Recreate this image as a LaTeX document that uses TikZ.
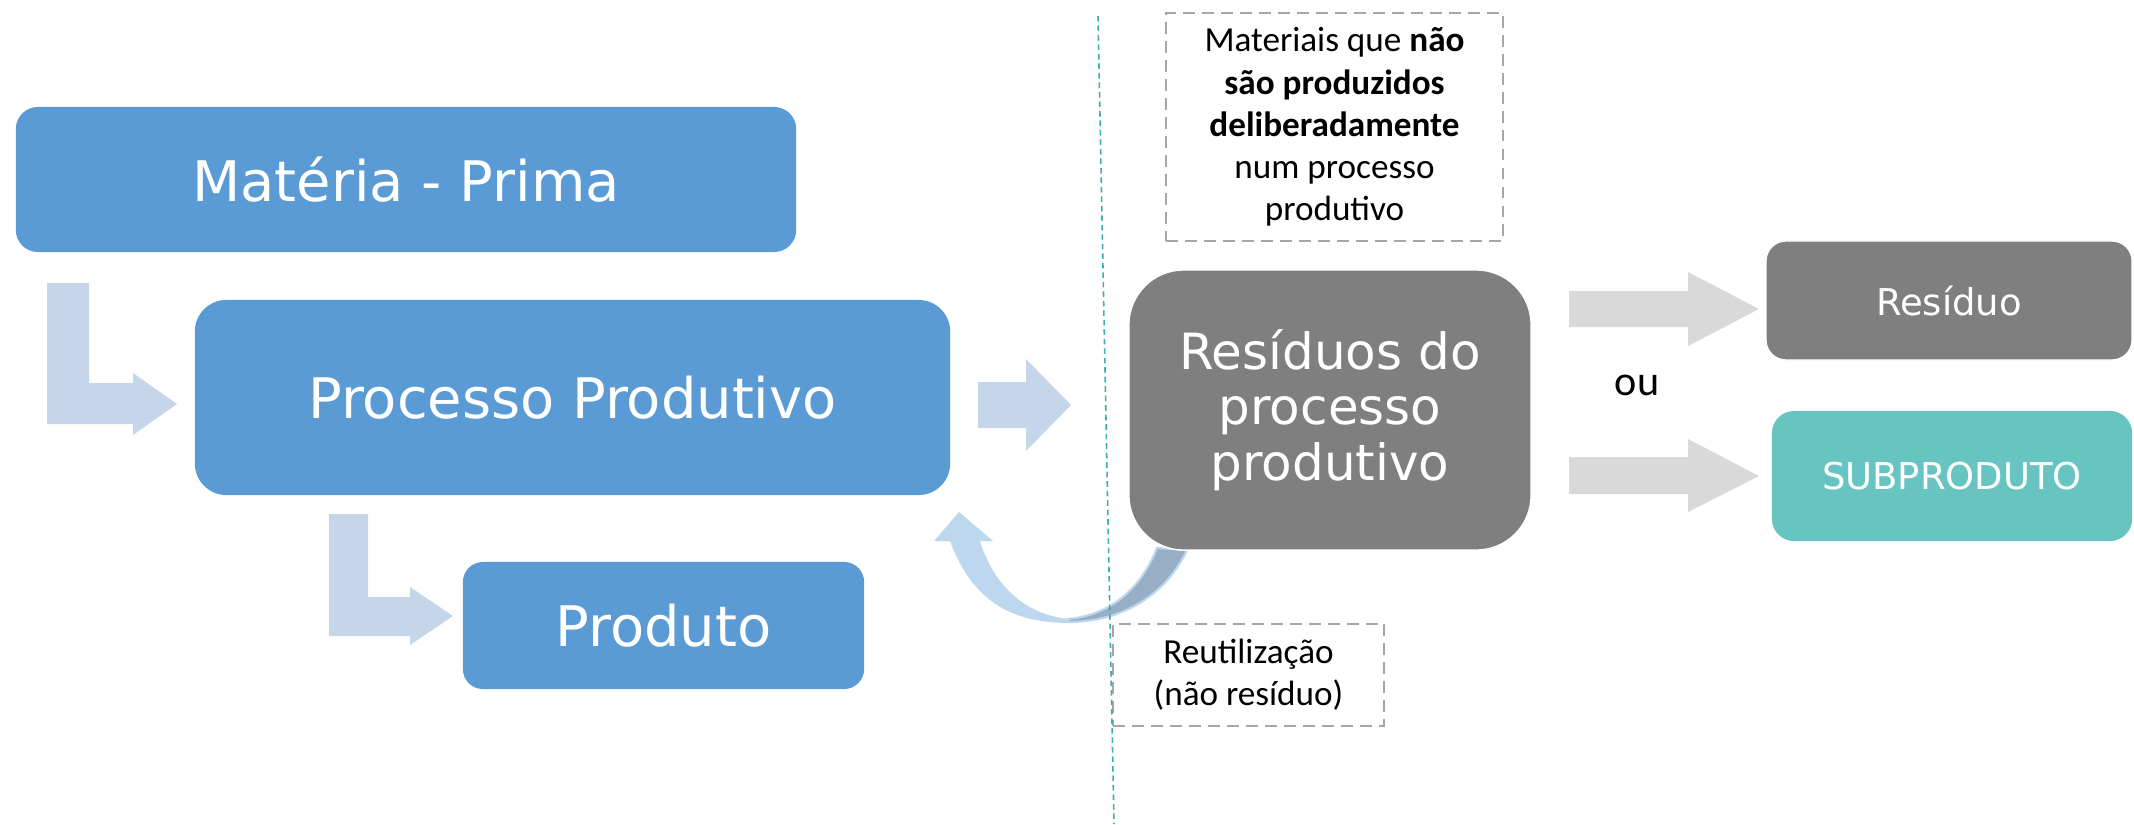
\documentclass[tikz,border=0pt]{standalone}
\usepackage{fontspec}
\newfontfamily\boxfont{DejaVu Sans}
\newfontfamily\calfont{Carlito}
\definecolor{boxblue}{HTML}{5B9BD5}
\definecolor{boxgray}{HTML}{7F7F7F}
\definecolor{boxteal}{RGB}{104,196,193}
\definecolor{arrowblue}{RGB}{197,213,234}
\definecolor{arrowgray}{HTML}{D9D9D9}
\definecolor{dashgray}{HTML}{A6A6A6}
\definecolor{curvelight}{RGB}{189,215,238}
\definecolor{curvedark}{RGB}{151,174,197}
\definecolor{lineteal}{RGB}{60,175,170}
\tikzset{
  basebox/.style={inner sep=0pt, align=center, text=white},
  bluebox/.style={basebox, fill=boxblue, font=\boxfont\fontsize{15.9}{18}\selectfont},
  graybox/.style={basebox, fill=boxgray, draw=white, line width=0.4pt},
  notebox/.style={draw=dashgray, line width=0.6pt, dash pattern=on 3.4pt off 2pt, inner sep=0pt, align=center, text=black, font=\calfont\fontsize{10}{12}\selectfont},
  blockarrow/.style={fill=arrowblue, draw=none},
  grayarrow/.style={fill=arrowgray, draw=none},
}
\begin{document}
\begin{tikzpicture}[x=0.01cm, y=-0.01cm]
\useasboundingbox (0,0) rectangle (2134,824);

% block arrows (left side)
\fill[blockarrow] (47,283) -- (89,283) -- (89,383) -- (133,383) -- (133,373) -- (177,404) -- (133,435) -- (133,424) -- (47,424) -- cycle;
\fill[blockarrow] (329,514) -- (368,514) -- (368,597) -- (410,597) -- (410,587) -- (453,616) -- (410,645) -- (410,636) -- (329,636) -- cycle;
\fill[blockarrow] (978,382) -- (1026,382) -- (1026,359) -- (1071,405) -- (1026,451) -- (1026,428) -- (978,428) -- cycle;

% gray arrows (right side)
\fill[grayarrow] (1569,291) -- (1688,291) -- (1688,272) -- (1759,309) -- (1688,346) -- (1688,327) -- (1569,327) -- cycle;
\fill[grayarrow] (1569,457) -- (1688,457) -- (1688,439) -- (1759,476) -- (1688,512) -- (1688,494) -- (1569,494) -- cycle;

% curved reuse arrow
\fill[curvelight] (934,541) -- (959,512) -- (993,541) -- (980,541)
  .. controls (995,590) and (1030,616) .. (1070,619) -- (1070,623)
  .. controls (1010,623) and (972,600) .. (950,541) -- cycle;
\filldraw[fill=curvedark, draw=curvelight, line width=0.6pt] (1068,622)
  .. controls (1122,622) and (1166,595) .. (1187,550) -- (1157,548)
  .. controls (1140,590) and (1110,615) .. (1068,619) -- cycle;

% boxes
\node[bluebox, minimum width=7.80cm, minimum height=1.45cm, rounded corners=6.3pt] (mp) at (406,179.5) {Matéria - Prima};
\node[bluebox, minimum width=7.55cm, minimum height=1.95cm, rounded corners=9pt] (pp) at (572.5,397.5) {Processo Produtivo};
\node[bluebox, minimum width=4.01cm, minimum height=1.27cm, rounded corners=5.7pt] (prod) at (663.5,625.5) {Produto};
\node[graybox, minimum width=4.02cm, minimum height=2.80cm, rounded corners=15.6pt, font=\boxfont\fontsize{14.2}{15.8}\selectfont] (rpp) at (1330,410) {Resíduos do\\processo\\produtivo};
\node[graybox, minimum width=3.66cm, minimum height=1.19cm, rounded corners=5.7pt, font=\boxfont\fontsize{10.5}{12.5}\selectfont] (res) at (1949,300.5) {Resíduo};
\node[basebox, fill=boxteal, minimum width=3.60cm, minimum height=1.30cm, rounded corners=6.3pt, font=\boxfont\fontsize{10.5}{12.5}\selectfont] (sub) at (1952,476) {SUBPRODUTO};

% notes
\node[notebox, minimum width=3.37cm, minimum height=2.28cm] (mat) at (1334.5,127) {Materiais que \textbf{não}\\\textbf{são produzidos}\\\textbf{deliberadamente}\\num processo\\produtivo};
\node[notebox, minimum width=2.71cm, minimum height=1.02cm] (reu) at (1248.5,675) {Reutilização\\(não resíduo)};
\node[font=\calfont\fontsize{12}{14}\selectfont, inner sep=0pt] (ou) at (1637,385) {ou};

% teal dashed divider
\coordinate (divtop) at (1098,16);
\coordinate (divbot) at (1114,824);
\draw[lineteal, line width=0.45pt, dash pattern=on 1.6pt off 1.1pt] (divtop) -- (divbot);
\end{tikzpicture}
\end{document}
